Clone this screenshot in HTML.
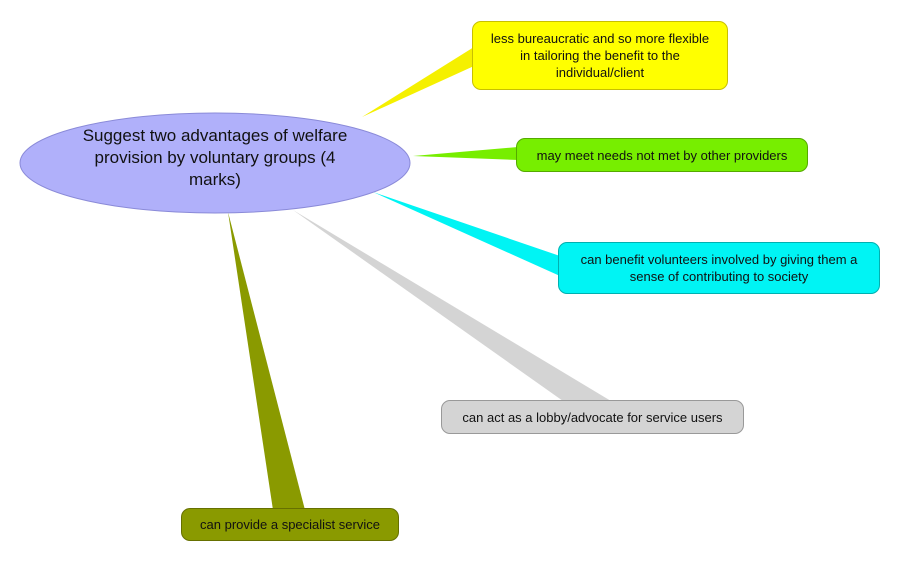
<!DOCTYPE html>
<html><head><style>
html,body{margin:0;padding:0;background:#fff;}
body{width:900px;height:562px;position:relative;overflow:hidden;font-family:"Liberation Sans",sans-serif;}
.b{position:absolute;box-sizing:border-box;border-radius:9px;display:flex;align-items:center;justify-content:center;text-align:center;font-size:13px;color:#111;line-height:17px;}
</style></head><body>
<svg width="900" height="562" style="position:absolute;left:0;top:0">
<polygon points="362,117 474,47 474,66" fill="#f5f000"/>
<polygon points="413,156 518,147 518,160" fill="#77ee00"/>
<polygon points="373,192 560,256 560,276" fill="#00f4f4"/>
<polygon points="293,210 563,401 611,401" fill="#d4d4d4"/>
<polygon points="228,212 273,510 305,510" fill="#8a9a00"/>
<ellipse cx="215" cy="163" rx="195" ry="50" fill="#b0b0fa" stroke="#8a8ad8" stroke-width="1"/>
<text x="215" y="141" text-anchor="middle" font-family="Liberation Sans, sans-serif" font-size="17" fill="#111">Suggest two advantages of welfare</text>
<text x="215" y="163" text-anchor="middle" font-family="Liberation Sans, sans-serif" font-size="17" fill="#111">provision by voluntary groups (4</text>
<text x="215" y="185" text-anchor="middle" font-family="Liberation Sans, sans-serif" font-size="17" fill="#111">marks)</text>
</svg>
<div class="b" style="left:472px;top:21px;width:256px;height:69px;background:#ffff00;border:1px solid #c8c000;">less bureaucratic and so more flexible<br>in tailoring the benefit to the<br>individual/client</div>
<div class="b" style="left:516px;top:138px;width:292px;height:34px;background:#77ee00;border:1px solid #55aa00;">may meet needs not met by other providers</div>
<div class="b" style="left:558px;top:242px;width:322px;height:52px;background:#00f4f4;border:1px solid #00b0b0;">can benefit volunteers involved by giving them a<br>sense of contributing to society</div>
<div class="b" style="left:441px;top:400px;width:303px;height:34px;background:#d4d4d4;border:1px solid #999;">can act as a lobby/advocate for service users</div>
<div class="b" style="left:181px;top:508px;width:218px;height:33px;background:#8a9a00;border:1px solid #667000;">can provide a specialist service</div>
</body></html>
